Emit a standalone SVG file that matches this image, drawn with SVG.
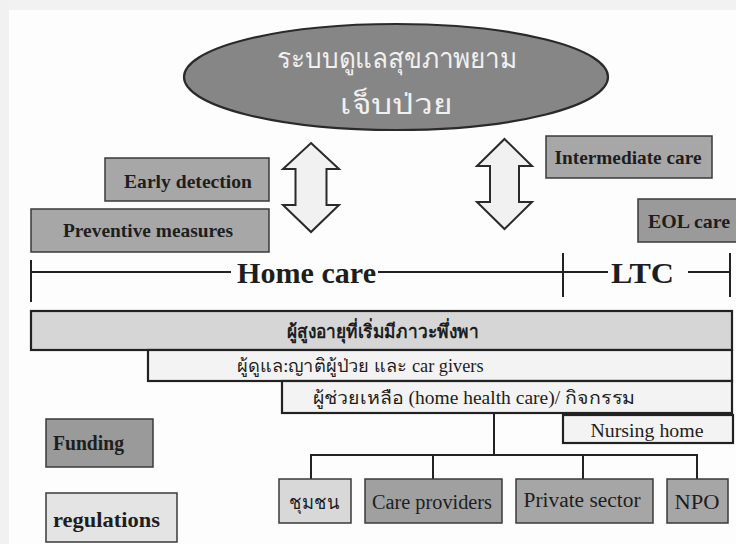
<svg xmlns="http://www.w3.org/2000/svg" width="736" height="544" viewBox="0 0 736 544">
  <style>
    .box { stroke: #3a3a3a; stroke-width: 1.5; }
    .bar { stroke: #222; stroke-width: 2.2; }
    .dark { fill: #9a9a9a; }
    .mid { fill: #a7a7a7; }
    .light { fill: #d6d6d6; }
    .pale { fill: #f3f3f3; }
    .t { font-family: "Liberation Serif", "Noto Sans", "DejaVu Sans", serif; fill: #1e1e1e; }
    .b { font-weight: bold; }
    .c { text-anchor: middle; }
    .wire { fill: none; stroke: #222; stroke-width: 2; }
    .dbl { fill: #f1f1f1; stroke: #2a2a2a; stroke-width: 2; stroke-linejoin: miter; }
  </style>

  <!-- page background and margins -->
  <rect x="0" y="0" width="736" height="544" fill="#fdfdfd"/>
  <rect x="0" y="0" width="736" height="10" fill="#f2f2f2"/>
  <rect x="0" y="0" width="9" height="544" fill="#f1f1f1"/>

  <!-- central system ellipse -->
  <g id="health-system">
    <ellipse cx="396" cy="77" rx="212" ry="53" fill="#868686" stroke="#2a2a2a" stroke-width="2.2"/>
    <text class="t c" x="397" y="68" font-size="28" style="fill:#f0f0f0" textLength="240" lengthAdjust="spacingAndGlyphs">ระบบดูแลสุขภาพยาม</text>
    <text class="t c" x="396" y="114" font-size="28" style="fill:#f0f0f0" textLength="112" lengthAdjust="spacingAndGlyphs">เจ็บป่วย</text>
  </g>

  <!-- two-way arrows -->
  <g id="arrow-left">
    <path class="dbl" d="M311,143 L339,169 L326.5,169 L326.5,205 L339,205 L311,232 L283,205 L295.5,205 L295.5,169 L283,169 Z"/>
  </g>
  <g id="arrow-right">
    <path class="dbl" d="M504.5,139 L532,166 L519,166 L519,202 L532,202 L504.5,229 L477,202 L490,202 L490,166 L477,166 Z"/>
  </g>

  <!-- upper boxes -->
  <g id="early-detection">
    <rect class="box mid" x="105" y="158" width="164" height="43"/>
    <text class="t b c" x="188" y="188" font-size="19" textLength="128" lengthAdjust="spacingAndGlyphs">Early detection</text>
  </g>
  <g id="preventive-measures">
    <rect class="box mid" x="31" y="209" width="238" height="43"/>
    <text class="t b c" x="148" y="237" font-size="19" textLength="170" lengthAdjust="spacingAndGlyphs">Preventive measures</text>
  </g>
  <g id="intermediate-care">
    <rect class="box mid" x="546" y="136" width="166" height="42"/>
    <text class="t b c" x="628" y="164" font-size="19" textLength="147" lengthAdjust="spacingAndGlyphs">Intermediate care</text>
  </g>
  <g id="eol-care">
    <rect class="box dark" x="638" y="199" width="104" height="43"/>
    <text class="t b" x="648" y="228" font-size="19" textLength="82" lengthAdjust="spacingAndGlyphs">EOL care</text>
  </g>

  <!-- care span scale -->
  <g id="span-scale">
    <line class="wire" x1="31" y1="272" x2="231" y2="272"/>
    <line class="wire" x1="31" y1="260" x2="31" y2="302"/>
    <line class="wire" x1="378" y1="272" x2="608" y2="272"/>
    <line class="wire" x1="563" y1="253" x2="563" y2="297"/>
    <line class="wire" x1="688" y1="272" x2="730" y2="272"/>
    <line class="wire" x1="730" y1="253" x2="730" y2="297"/>
    <text class="t b" x="237" y="283" font-size="29" textLength="139" lengthAdjust="spacingAndGlyphs">Home care</text>
    <text class="t b" x="611" y="283" font-size="29" textLength="63" lengthAdjust="spacingAndGlyphs">LTC</text>
  </g>

  <!-- stacked care layers -->
  <g id="dependent-elderly">
    <rect class="bar light" x="31" y="311" width="701" height="39"/>
    <text class="t b c" x="383" y="338" font-size="19" textLength="192" lengthAdjust="spacingAndGlyphs">ผู้สูงอายุที่เริ่มมีภาวะพึ่งพา</text>
  </g>
  <g id="family-caregivers">
    <rect class="bar pale" x="148" y="350" width="584" height="31"/>
    <text class="t c" x="360" y="372" font-size="18" textLength="247" lengthAdjust="spacingAndGlyphs">ผู้ดูแล:ญาติผู้ป่วย และ car givers</text>
  </g>
  <g id="home-health-care">
    <rect class="bar pale" x="282" y="381" width="450" height="32"/>
    <text class="t c" x="474" y="404" font-size="18" textLength="323" lengthAdjust="spacingAndGlyphs">ผู้ช่วยเหลือ (home health care)/ กิจกรรม</text>
  </g>
  <g id="nursing-home">
    <rect class="bar pale" x="563" y="415" width="170" height="28"/>
    <text class="t c" x="647" y="437" font-size="18" textLength="113" lengthAdjust="spacingAndGlyphs">Nursing home</text>
  </g>

  <!-- left side boxes -->
  <g id="funding">
    <rect class="box dark" x="46" y="419" width="107" height="48"/>
    <text class="t b" x="53" y="450" font-size="21" textLength="71" lengthAdjust="spacingAndGlyphs">Funding</text>
  </g>
  <g id="regulations">
    <rect class="box" x="46" y="493" width="131" height="49" fill="#e4e4e4"/>
    <text class="t b" x="53" y="527" font-size="21" textLength="107" lengthAdjust="spacingAndGlyphs">regulations</text>
  </g>

  <!-- provider tree connectors -->
  <g id="connectors">
    <line class="wire" x1="494" y1="413" x2="494" y2="455"/>
    <line class="wire" x1="310" y1="455" x2="698" y2="455"/>
    <line class="wire" x1="311" y1="455" x2="311" y2="479"/>
    <line class="wire" x1="433" y1="455" x2="433" y2="479"/>
    <line class="wire" x1="583" y1="455" x2="583" y2="479"/>
    <line class="wire" x1="697" y1="455" x2="697" y2="479"/>
  </g>

  <!-- providers -->
  <g id="community">
    <rect class="box" x="279" y="479" width="72" height="44" fill="#d8d8d8"/>
    <text class="t c" x="314" y="509" font-size="19" textLength="50" lengthAdjust="spacingAndGlyphs">ชุมชน</text>
  </g>
  <g id="care-providers">
    <rect class="box" x="365" y="479" width="137" height="44" fill="#a0a0a0"/>
    <text class="t c" x="432" y="509" font-size="20" textLength="120" lengthAdjust="spacingAndGlyphs">Care providers</text>
  </g>
  <g id="private-sector">
    <rect class="box" x="516" y="479" width="137" height="44" fill="#a6a6a6"/>
    <text class="t c" x="582" y="507" font-size="20" textLength="117" lengthAdjust="spacingAndGlyphs">Private sector</text>
  </g>
  <g id="npo">
    <rect class="box" x="667" y="479" width="61" height="44" fill="#a6a6a6"/>
    <text class="t c" x="697" y="509" font-size="20" textLength="45" lengthAdjust="spacingAndGlyphs">NPO</text>
  </g>
</svg>
